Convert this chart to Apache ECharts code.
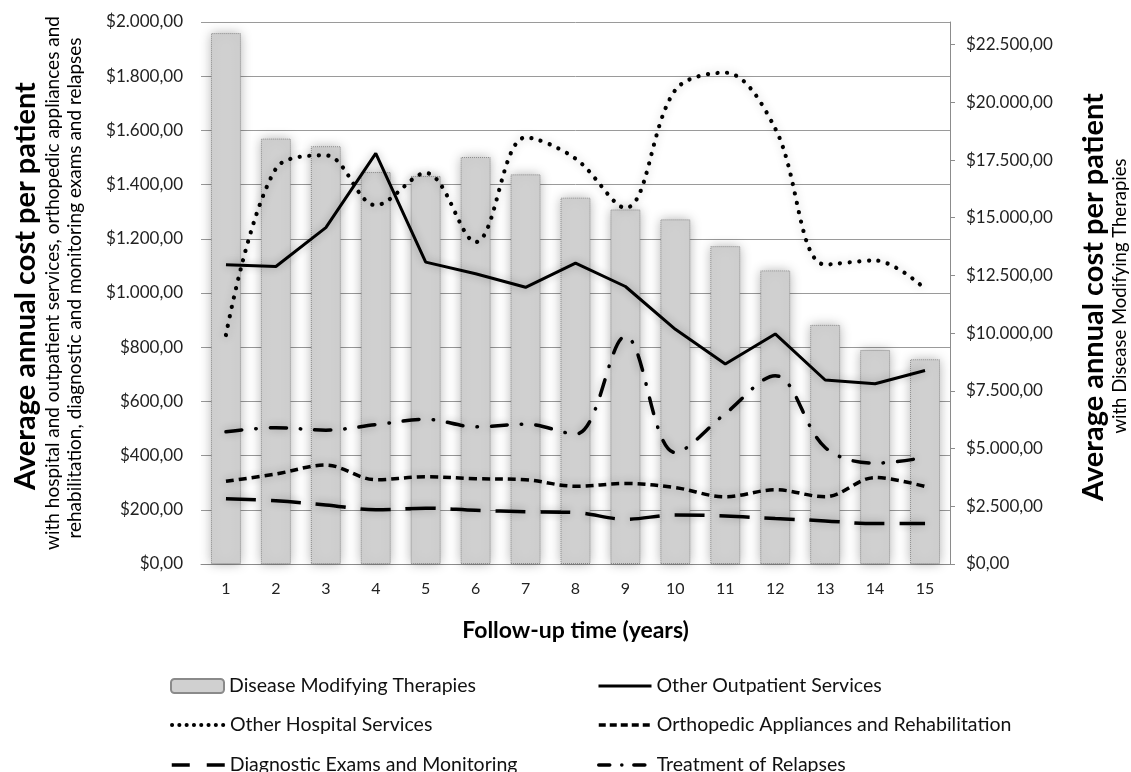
<!DOCTYPE html>
<html><head><meta charset="utf-8">
<script src="https://cdn.jsdelivr.net/npm/echarts@6/dist/echarts.min.js"></script>
<style>html,body{margin:0;padding:0;background:#fff}#c{width:1131px;height:772px}</style>
</head><body><div id="c"></div>
<script>
const categories = ['1','2','3','4','5','6','7','8','9','10','11','12','13','14','15'];
const diseaseModifying = [23000,18430,18100,16980,16810,17630,16880,15870,15360,14930,13770,12720,10360,9270,8870];
const otherOutpatient = [1104,1098,1241,1515,1114,1071,1021,1110,1024,866,738,849,679,665,714];
const otherHospital = [845,1459,1508,1324,1443,1188,1574,1496,1314,1749,1813,1607,1105,1120,1016];
const orthopedic = [305,332,365,311,322,315,311,287,297,282,248,274,248,319,286];
const diagnostic = [241,233,218,200,206,198,193,190,165,181,177,168,159,149,149];
const relapses = [488,503,494,514,534,506,516,479,840,411,555,695,430,372,393];
const leftTicks = [0,200,400,600,800,1000,1200,1400,1600,1800,2000];
const rightTicks = [0,2500,5000,7500,10000,12500,15000,17500,20000,22500];

const FONT = 'Lato';
function money(v){
  const parts = Math.round(v).toString().replace(/\B(?=(\d{3})+(?!\d))/g,'.');
  return '$' + parts + ',00';
}
const glow = {shadowBlur: 8, shadowColor: 'rgba(0,0,0,0.28)'};
function lineSeries(name, data, type, width, cap, smooth){
  return {
    name, type:'line', data, yAxisIndex:0, symbol:'none', smooth: smooth, z:3,
    lineStyle: Object.assign({color:'#000', width, type, cap}, glow),
    itemStyle:{color:'#000'}
  };
}
function leg(name, left, top, lineType, width, cap){
  const l = {orient:'horizontal', left, top, itemWidth:53, itemHeight:14, itemGap:0,
    textStyle:{fontSize:19.5, color:'#111', lineHeight:22, fontFamily:FONT, padding:[0,0,0,0]},
    data:[name]};
  if (lineType) {
    l.itemStyle = {color:'rgba(0,0,0,0)', borderColor:'rgba(0,0,0,0)', borderWidth:0, shadowBlur:0};
    l.lineStyle = {color:'#000', width:width, type:lineType, cap:cap, shadowBlur:0};
  }
  return l;
}
const chart = echarts.init(document.getElementById('c'), null, {renderer:'canvas'});
chart.setOption({
  animation:false,
  textStyle:{fontFamily:FONT},
  grid:{left:201, right:181, top:22, bottom:208, containLabel:false},
  xAxis:{type:'category', data:categories, boundaryGap:true,
    axisLine:{show:true, lineStyle:{color:'#8c8c8c', width:1}},
    axisTick:{show:false},
    axisLabel:{fontSize:16, color:'#222', margin:17, fontFamily:FONT},
    name:'Follow-up time (years)', nameLocation:'middle', nameGap:55,
    nameTextStyle:{fontSize:23, fontWeight:'bold', color:'#000', fontFamily:FONT}
  },
  yAxis:[
    {type:'value', min:0, max:2000, interval:200, position:'left',
     axisLine:{show:false}, axisTick:{show:false},
     splitLine:{show:true, lineStyle:{color:'#9a9a9a', width:1}},
     axisLabel:{fontSize:17, color:'#222', margin:18, fontFamily:FONT, formatter:v=>money(v),
       customValues:leftTicks}
    },
    {type:'value', min:0, max:23480, position:'right',
     axisLine:{show:true, lineStyle:{color:'#8c8c8c', width:1}},
     axisTick:{show:true, length:5, lineStyle:{color:'#8c8c8c'}, customValues:rightTicks},
     splitLine:{show:false},
     axisLabel:{fontSize:17, color:'#222', margin:16, fontFamily:FONT, formatter:v=>money(v),
       customValues:rightTicks}
    }
  ],
  legend:[
    leg('Disease Modifying Therapies', 165, 670, null),
    leg('Other Hospital Services', 165, 709, [0.1,7.2], 4, 'round'),
    leg('Diagnostic Exams and Monitoring', 165, 749, [18,17], 3.5, 'butt'),
    leg('Other Outpatient Services', 592, 670, 'solid', 3, 'butt'),
    leg('Orthopedic Appliances and Rehabilitation', 592, 709, [7,4], 3.5, 'butt'),
    leg('Treatment of Relapses', 592, 749, [11,12,0.1,12], 3.5, 'round')
  ],
  graphic:[
    {type:'text', x:26, y:286, rotation:Math.PI/2, style:{text:'Average annual cost per patient', font:'bold 29px '+FONT, fill:'#000', align:'center', verticalAlign:'middle'}},
    {type:'text', x:53, y:283, rotation:Math.PI/2, style:{text:'with hospital and outpatient services, orthopedic appliances and', font:'19px '+FONT, fill:'#000', align:'center', verticalAlign:'middle'}},
    {type:'text', x:75, y:288, rotation:Math.PI/2, style:{text:'rehabilitation, diagnostic and monitoring exams and relapses', font:'19px '+FONT, fill:'#000', align:'center', verticalAlign:'middle'}},
    {type:'text', x:1094, y:297, rotation:Math.PI/2, style:{text:'Average annual cost per patient', font:'bold 29px '+FONT, fill:'#000', align:'center', verticalAlign:'middle'}},
    {type:'text', x:1120, y:296, rotation:Math.PI/2, style:{text:'with Disease Modifying Therapies', font:'18.5px '+FONT, fill:'#000', align:'center', verticalAlign:'middle'}}
  ],
  series:[
    {name:'Disease Modifying Therapies', type:'bar', data:diseaseModifying, yAxisIndex:1, barWidth:'60%', z:1,
     itemStyle:{color:'#d0d0d0', borderColor:'#8a8a8a', borderWidth:1, borderType:'dotted',
       shadowBlur:12, shadowColor:'rgba(0,0,0,0.3)'}},
    lineSeries('Other Outpatient Services', otherOutpatient, 'solid', 3, 'butt', false),
    lineSeries('Other Hospital Services', otherHospital, [0.1,9.5], 4.2, 'round', 0.35),
    lineSeries('Orthopedic Appliances and Rehabilitation', orthopedic, [8,5], 3.5, 'butt', 0.35),
    lineSeries('Diagnostic Exams and Monitoring', diagnostic, [30,15], 3.5, 'butt', 0.35),
    lineSeries('Treatment of Relapses', relapses, [16,14,0.5,14], 3.5, 'round', 0.35)
  ]
});
</script>
</body></html>
